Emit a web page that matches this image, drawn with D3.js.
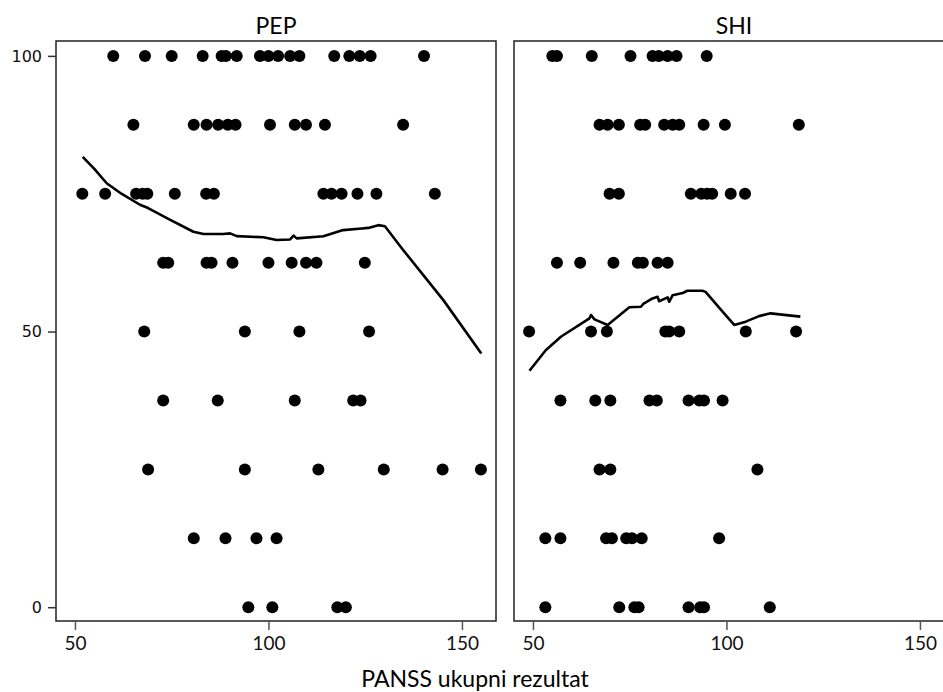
<!DOCTYPE html>
<html>
<head>
<meta charset="utf-8">
<script src="https://cdn.jsdelivr.net/npm/d3@7/dist/d3.min.js"></script>
<style>
  html, body { margin: 0; padding: 0; background: #fff; }
  svg { display: block; }
</style>
</head>
<body>
<div id="chart"></div>
<script>
// ---- data ----
const panels = ["PEP", "SHI"];
const xTicks = [50, 100, 150];
const yTicks = [0, 50, 100];

const pepX = [
  59.9, 68.1, 75.0, 83.0, 87.9, 89.0, 91.8, 97.8, 100.0, 102.5, 105.6, 108.0, 117.0, 120.9, 123.6, 126.4, 140.2,
  65.1, 80.7, 84.0, 87.0, 89.5, 91.5, 100.4, 106.8, 109.7, 114.6, 134.8,
  51.9, 57.8, 65.8, 67.5, 68.7, 75.8, 83.9, 85.9, 114.2, 116.3, 118.9, 123.0, 127.9, 143.0,
  72.8, 74.1, 84.0, 85.3, 90.7, 100.0, 106.0, 109.7, 112.4, 124.9,
  67.9, 93.9, 108.0, 126.0,
  72.8, 86.9, 106.8, 121.9, 123.8,
  68.9, 93.9, 112.9, 129.8, 145.0, 154.9,
  80.7, 88.9, 96.9, 102.1,
  94.8, 101.0, 117.8, 120.0
];
const pepY = [
  100,100,100,100,100,100,100,100,100,100,100,100,100,100,100,100,100,
  87.5,87.5,87.5,87.5,87.5,87.5,87.5,87.5,87.5,87.5,87.5,
  75,75,75,75,75,75,75,75,75,75,75,75,75,75,
  62.5,62.5,62.5,62.5,62.5,62.5,62.5,62.5,62.5,62.5,
  50,50,50,50,
  37.5,37.5,37.5,37.5,37.5,
  25,25,25,25,25,25,
  12.5,12.5,12.5,12.5,
  0,0,0,0
];
const shiX = [
  55.0, 56.2, 65.2, 75.2, 80.9, 82.5, 84.8, 87.1, 94.9,
  67.2, 69.3, 72.2, 77.7, 79.0, 83.9, 86.1, 87.8, 94.1, 99.6, 118.7,
  69.8, 72.2, 90.8, 93.5, 95.0, 96.3, 101.1, 104.8,
  56.2, 62.2, 70.8, 77.1, 78.4, 82.2, 84.8,
  49.0, 65.0, 69.1, 84.2, 85.2, 87.8, 105.0, 118.0,
  57.1, 66.1, 70.0, 80.1, 82.0, 90.2, 93.0, 94.2, 99.0,
  67.2, 70.0, 108.0,
  53.2, 57.1, 68.9, 70.4, 74.1, 75.6, 78.1, 98.1,
  53.2, 72.3, 76.2, 77.3, 90.2, 93.2, 94.2, 111.2
];
const shiY = [
  100,100,100,100,100,100,100,100,100,
  87.5,87.5,87.5,87.5,87.5,87.5,87.5,87.5,87.5,87.5,87.5,
  75,75,75,75,75,75,75,75,
  62.5,62.5,62.5,62.5,62.5,62.5,62.5,
  50,50,50,50,50,50,50,50,
  37.5,37.5,37.5,37.5,37.5,37.5,37.5,37.5,37.5,
  25,25,25,
  12.5,12.5,12.5,12.5,12.5,12.5,12.5,12.5,
  0,0,0,0,0,0,0,0
];
const pepLineX = [52.0, 55.0, 58.2, 62.0, 66.8, 68.9, 74.0, 80.6, 83.2, 88.3, 90.1, 91.8, 98.7, 102.1, 105.6, 106.5, 107.3, 114.2, 119.3, 124.1, 125.8, 128.4, 130.1, 134.8, 145.2, 155.0];
const pepLineY = [81.7, 79.5, 76.9, 75.0, 73.0, 72.4, 70.5, 68.1, 67.7, 67.7, 67.8, 67.3, 67.1, 66.6, 66.7, 67.4, 66.9, 67.3, 68.4, 68.7, 68.8, 69.3, 69.1, 64.8, 55.7, 46.0];
const shiLineX = [49.1, 53.3, 57.3, 64.6, 65.0, 65.9, 69.3, 74.9, 77.9, 78.5, 80.9, 82.2, 82.6, 84.8, 85.2, 86.1, 88.7, 89.9, 93.8, 94.6, 99.0, 102.0, 105.0, 108.4, 111.4, 119.1];
const shiLineY = [42.9, 46.6, 49.1, 52.4, 53.0, 52.2, 51.2, 54.4, 54.5, 55.0, 56.0, 56.3, 55.5, 56.2, 55.4, 56.6, 57.0, 57.4, 57.4, 57.2, 53.6, 51.2, 51.8, 52.8, 53.3, 52.7];
const xTitle = "PANSS ukupni rezultat";

// ---- layout ----
const W = 943, H = 692;
const panelW = 440, panelH = 580, panelTop = 41;
const panelLeft = [56, 514];

const svg = d3.select("#chart").append("svg")
  .attr("width", W).attr("height", H);

const x = d3.scaleLinear().domain([45.1, 158.8]).range([0, panelW]);
const y = d3.scaleLinear().domain([-2.5, 102.7]).range([panelH, 0]);

const series = [
  {name: panels[0], xs: pepX, ys: pepY, lx: pepLineX, ly: pepLineY},
  {name: panels[1], xs: shiX, ys: shiY, lx: shiLineX, ly: shiLineY}
];

const line = d3.line().x(d => x(d[0])).y(d => y(d[1]));

series.forEach((s, i) => {
  const g = svg.append("g").attr("transform", `translate(${panelLeft[i]},${panelTop})`);

  // title
  svg.append("text")
    .attr("x", panelLeft[i] + panelW / 2).attr("y", 34)
    .attr("text-anchor", "middle")
    .attr("font-family", "Lato, 'Open Sans', sans-serif")
    .attr("font-size", 23).attr("fill", "#000")
    .text(s.name);

  // points
  g.selectAll("circle").data(d3.range(s.xs.length)).join("circle")
    .attr("cx", k => x(s.xs[k])).attr("cy", k => y(s.ys[k]))
    .attr("r", 6).attr("fill", "#000");

  // smoother line
  g.append("path")
    .datum(s.lx.map((v, k) => [v, s.ly[k]]))
    .attr("d", line)
    .attr("fill", "none").attr("stroke", "#000")
    .attr("stroke-width", 2.6).attr("stroke-linejoin", "round");

  // frame
  g.append("rect").attr("x", 0).attr("y", 0)
    .attr("width", panelW).attr("height", panelH)
    .attr("fill", "none").attr("stroke", "#222").attr("stroke-width", 1.5);

  // x axis
  const xa = g.append("g").attr("transform", `translate(0,${panelH})`)
    .call(d3.axisBottom(x).tickValues(xTicks).tickSize(9).tickPadding(7).tickFormat(d3.format("d")));
  xa.select(".domain").remove();
  xa.selectAll("line").attr("stroke", "#555").attr("stroke-width", 1.5);
  xa.selectAll("text").attr("font-family", "Lato, 'Open Sans', sans-serif")
    .attr("font-size", 19).attr("fill", "#111");

  // y axis only on first panel
  if (i === 0) {
    const ya = g.append("g")
      .call(d3.axisLeft(y).tickValues(yTicks).tickSize(8).tickPadding(6).tickFormat(d3.format("d")));
    ya.select(".domain").remove();
    ya.selectAll("line").attr("stroke", "#333").attr("stroke-width", 1.5);
    ya.selectAll("text").attr("font-family", "'DejaVu Sans', sans-serif")
      .attr("font-size", 16).attr("fill", "#111");
  }
});

// x title
svg.append("text")
  .attr("x", 475).attr("y", 687)
  .attr("text-anchor", "middle")
  .attr("font-family", "Lato, 'Open Sans', sans-serif")
  .attr("font-size", 23).attr("fill", "#000")
  .text(xTitle);
</script>
</body>
</html>
